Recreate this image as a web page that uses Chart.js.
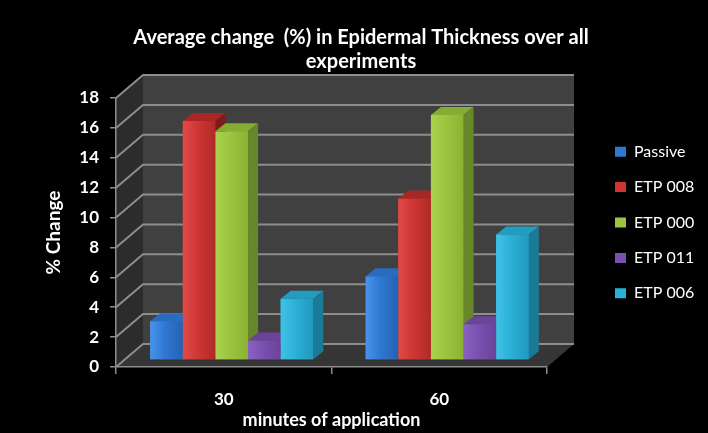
<!DOCTYPE html>
<html>
<head>
<meta charset="utf-8">
<script src="https://cdn.jsdelivr.net/npm/chart.js@4/dist/chart.umd.min.js"></script>
<style>
  html, body { margin: 0; padding: 0; background: #000; }
  #wrap { width: 708px; height: 433px; }
</style>
</head>
<body>
<div id="wrap"><canvas id="c" width="708" height="433"></canvas></div>
<script>
// ---- data ----
const categories = ['30', '60'];
const seriesNames = ['Passive', 'ETP 008', 'ETP 000', 'ETP 011', 'ETP 006'];
const passive = [2.6, 5.6];
const etp008 = [16.0, 10.8];
const etp000 = [15.3, 16.4];
const etp011 = [1.3, 2.4];
const etp006 = [4.1, 8.4];
const yMin = 0, yMax = 18, yStep = 2;
const chartTitle = ['Average change  (%) in Epidermal Thickness over all', 'experiments'];
const xTitle = 'minutes of application';
const yTitle = '% Change';

// ---- styling ----
const FONT = "Lato, 'Noto Sans', sans-serif";
const palette = [
  { front: '#2f78d2', light: '#4a93ea', dark: '#2362b3', top: '#2a6bc0', side: '#1d4f8f' },
  { front: '#cf3633', light: '#e04b47', dark: '#b02a28', top: '#a82725', side: '#7e1b1a' },
  { front: '#9cc43f', light: '#aad24d', dark: '#8ab333', top: '#86ad31', side: '#68872a' },
  { front: '#7a50b0', light: '#8a62c2', dark: '#6a4399', top: '#6a4499', side: '#4e3172' },
  { front: '#2bb0d8', light: '#3fc2e6', dark: '#2298be', top: '#239cc2', side: '#1a7a98' }
];
const WALL_DEPTH = { x: 27, y: -23 };   // back wall offset from the front plane
const BAR_SHIFT = { x: 8, y: -7 };      // bars sit a little behind the front plane
const BAR_DEPTH = { x: 10, y: -8 };     // thickness of each column
const GRID = '#8d8d8d';

// legend geometry (labels measured with the legend font)
const LEG_FS = 16, LEG_BOX = 11, LEG_PAD = 19.4;
const mctx = document.createElement('canvas').getContext('2d');
mctx.font = LEG_FS + 'px ' + FONT;
const legText = Math.max(...seriesNames.map(s => mctx.measureText(s).width));
const LEG_LEFT = 615 - LEG_PAD;
const legWidth = LEG_PAD + LEG_BOX + LEG_FS / 2 + legText + 10;
const padR = Math.max(0, 708 - LEG_LEFT - legWidth);
const padL = padR + 14;
const PLOT_LEFT = 116, PLOT_RIGHT = 547;

const box3d = {
  id: 'box3d',
  beforeDraw(chart) {
    const { ctx, chartArea: a } = chart;
    const ys = chart.scales.y;
    ctx.save();
    ctx.fillStyle = '#000';
    ctx.fillRect(0, 0, chart.width, chart.height);
    const L = a.left, R = a.right;
    const T = ys.getPixelForValue(yMax), B = ys.getPixelForValue(yMin);
    const dx = WALL_DEPTH.x, dy = WALL_DEPTH.y;
    // side wall
    ctx.fillStyle = '#2c2c2c';
    ctx.beginPath();
    ctx.moveTo(L, B); ctx.lineTo(L, T); ctx.lineTo(L + dx, T + dy); ctx.lineTo(L + dx, B + dy);
    ctx.closePath(); ctx.fill();
    // back wall
    ctx.fillStyle = '#404040';
    ctx.fillRect(L + dx, T + dy, R - L, B - T);
    // floor
    ctx.fillStyle = '#363636';
    ctx.beginPath();
    ctx.moveTo(L, B); ctx.lineTo(R, B); ctx.lineTo(R + dx, B + dy); ctx.lineTo(L + dx, B + dy);
    ctx.closePath(); ctx.fill();
    // gridlines on side and back walls
    ctx.strokeStyle = GRID;
    ctx.lineWidth = 2;
    for (let v = yMin; v <= yMax; v += yStep) {
      const py = ys.getPixelForValue(v);
      ctx.beginPath();
      ctx.moveTo(L, py); ctx.lineTo(L + dx, py + dy); ctx.lineTo(R + dx, py + dy);
      ctx.stroke();
    }
    ctx.restore();
  },
  beforeDatasetsDraw(chart) {
    chart.ctx.save();
    chart.ctx.translate(BAR_SHIFT.x, BAR_SHIFT.y);
  },
  afterDatasetsDraw(chart) {
    const ctx = chart.ctx;
    const bars = [];
    chart.data.datasets.forEach((ds, di) => {
      const meta = chart.getDatasetMeta(di);
      if (!chart.isDatasetVisible(di)) return;
      meta.data.forEach(el => {
        const p = el.getProps(['x', 'y', 'base', 'width'], true);
        bars.push({ ...p, di });
      });
    });
    // paint left to right so each column hides its left neighbour's side face
    bars.sort((a, b) => a.x - b.x);
    const bx = BAR_DEPTH.x, by = BAR_DEPTH.y;
    bars.forEach(b => {
      const c = palette[b.di];
      const l = b.x - b.width / 2, r = b.x + b.width / 2;
      const t = Math.min(b.y, b.base), bs = Math.max(b.y, b.base);
      const g = ctx.createLinearGradient(l, 0, r, 0);
      g.addColorStop(0, c.light);
      g.addColorStop(0.45, c.front);
      g.addColorStop(1, c.dark);
      ctx.fillStyle = g;
      ctx.fillRect(l, t, r - l, bs - t);
      // top face
      ctx.fillStyle = c.top;
      ctx.beginPath();
      ctx.moveTo(l, t); ctx.lineTo(r, t); ctx.lineTo(r + bx, t + by); ctx.lineTo(l + bx, t + by);
      ctx.closePath(); ctx.fill();
      // side face
      ctx.fillStyle = c.side;
      ctx.beginPath();
      ctx.moveTo(r, t); ctx.lineTo(r + bx, t + by); ctx.lineTo(r + bx, bs + by); ctx.lineTo(r, bs);
      ctx.closePath(); ctx.fill();
    });
    ctx.restore();
  }
};

const seriesValues = [passive, etp008, etp000, etp011, etp006];
new Chart(document.getElementById('c'), {
  type: 'bar',
  data: {
    labels: categories,
    datasets: seriesNames.map((name, i) => ({
      label: name,
      data: seriesValues[i],
      backgroundColor: palette[i].front,
      borderWidth: 0,
      barPercentage: 1,
      categoryPercentage: 0.757
    }))
  },
  options: {
    responsive: false,
    animation: false,
    events: [],
    layout: { padding: { left: padL, right: padR, top: 12, bottom: 0 } },
    plugins: {
      title: {
        display: true,
        text: chartTitle,
        color: '#ffffff',
        font: { family: FONT, size: 20, weight: 'bold', lineHeight: 1.2 },
        padding: { top: 14, bottom: 24 }
      },
      legend: {
        position: 'right',
        align: 'center',
        labels: {
          color: '#ffffff',
          font: { family: FONT, size: LEG_FS },
          boxWidth: LEG_BOX,
          boxHeight: 10,
          padding: LEG_PAD
        }
      },
      tooltip: { enabled: false }
    },
    scales: {
      x: {
        grid: { drawOnChartArea: false, drawTicks: true, tickLength: 7, color: GRID, lineWidth: 1.5 },
        border: { color: GRID, width: 1.5 },
        ticks: { color: '#ffffff', font: { family: FONT, size: 17, weight: 'bold' }, padding: 15.3 },
        title: { display: true, text: xTitle, color: '#ffffff', font: { family: FONT, size: 18, weight: 'bold' }, padding: { top: 0, bottom: 2.2 } },
        afterFit: s => { s.height = 66; }
      },
      y: {
        min: yMin, max: yMax,
        ticks: { stepSize: yStep, color: '#ffffff', font: { family: FONT, size: 17, weight: 'bold' }, padding: 11 },
        grid: { drawOnChartArea: false, drawTicks: true, tickLength: 6, color: GRID, lineWidth: 1.5 },
        border: { color: GRID, width: 1.5 },
        title: { display: true, text: yTitle, color: '#ffffff', font: { family: FONT, size: 19, weight: 'bold' }, padding: { top: 53.5 - padL - 11.4, bottom: 0 } },
        afterFit: s => { s.width = PLOT_LEFT - padL; }
      },
      gap: {
        type: 'linear', position: 'right', display: true,
        grid: { display: false }, ticks: { display: false }, border: { display: false },
        afterFit: s => { s.width = LEG_LEFT - PLOT_RIGHT; }
      }
    }
  },
  plugins: [box3d]
});
</script>
</body>
</html>
